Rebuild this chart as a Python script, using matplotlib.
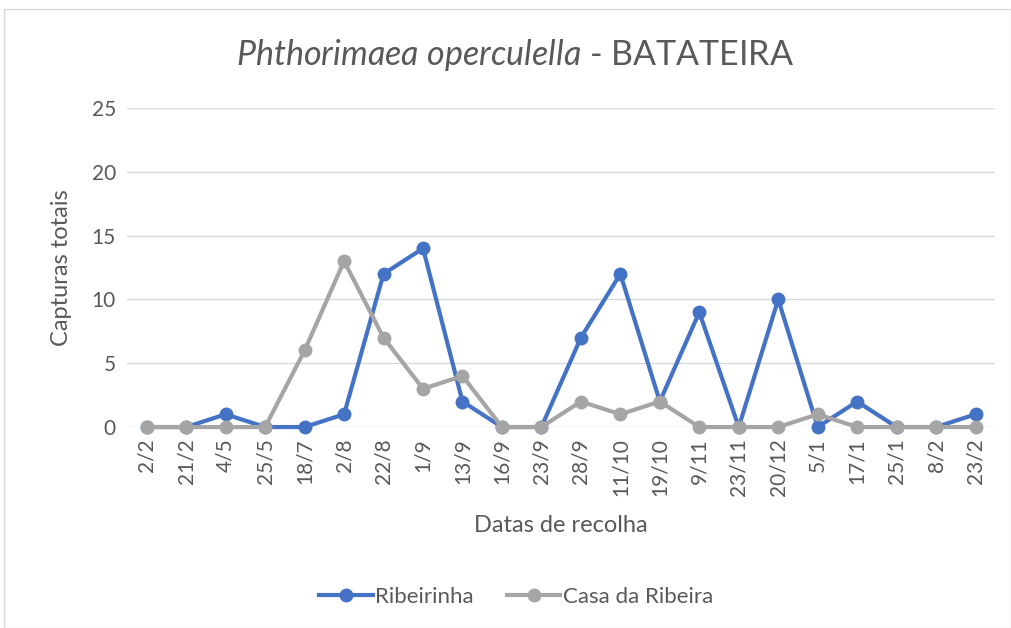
import matplotlib.pyplot as plt
from matplotlib.patches import Rectangle

plt.rcParams['font.family'] = ['Lato', 'DejaVu Sans']
plt.rcParams['mathtext.fontset'] = 'custom'
plt.rcParams['mathtext.rm'] = 'Lato'
plt.rcParams['mathtext.it'] = 'Lato:italic'

# collection dates
datas = ["2/2", "21/2", "4/5", "25/5", "18/7", "2/8", "22/8", "1/9", "13/9", "16/9", "23/9",
         "28/9", "11/10", "19/10", "9/11", "23/11", "20/12", "5/1", "17/1", "25/1", "8/2", "23/2"]
ribeirinha = [0, 0, 1, 0, 0, 1, 12, 14, 2, 0, 0, 7, 12, 2, 9, 0, 10, 0, 2, 0, 0, 1]
casa_ribeira = [0, 0, 0, 0, 6, 13, 7, 3, 4, 0, 0, 2, 1, 2, 0, 0, 0, 1, 0, 0, 0, 0]

fig = plt.figure(figsize=(10.12, 6.28), dpi=100)
ax = fig.add_axes([0.1255, 0.32, 0.858, 0.508])

# outer chart border
fig.patches.append(Rectangle((0.004, 0.0), 0.995, 0.985, transform=fig.transFigure,
                             fill=False, edgecolor="#d9d9d9", linewidth=1))

x = range(len(datas))
ax.plot(x, ribeirinha, color="#4472c4", linewidth=3, marker="o", markersize=9,
        label="Ribeirinha", clip_on=False, zorder=3)
ax.plot(x, casa_ribeira, color="#a5a5a5", linewidth=3, marker="o", markersize=9,
        label="Casa da Ribeira", clip_on=False, zorder=4)

ax.set_xlim(-0.5, len(datas) - 0.5)
ax.set_ylim(0, 25)
ax.set_yticks([0, 5, 10, 15, 20, 25])
ax.set_xticks(list(x))
ax.set_xticklabels(datas, rotation=90)
ax.grid(axis="y", color="#d9d9d9", linewidth=1)
ax.set_axisbelow(True)
for s in ax.spines.values():
    s.set_visible(False)
ax.tick_params(length=0, labelsize=15, labelcolor="#595959", pad=8)

fig.text(0.509, 0.913, "$\\mathit{Phthorimaea\\ operculella}$ - BATATEIRA", fontsize=24.5,
         color="#595959", ha="center", va="center")
ax.set_xlabel("Datas de recolha", fontsize=17, color="#595959", labelpad=14)
ax.set_ylabel("Capturas totais", fontsize=17, color="#595959", labelpad=14)

fig.legend(loc="center", bbox_to_anchor=(0.51, 0.05), ncol=2, frameon=False,
           fontsize=16, labelcolor="#595959", handlelength=2.4, columnspacing=1.5,
           handletextpad=0.1)

plt.savefig("out.png", dpi=100)
